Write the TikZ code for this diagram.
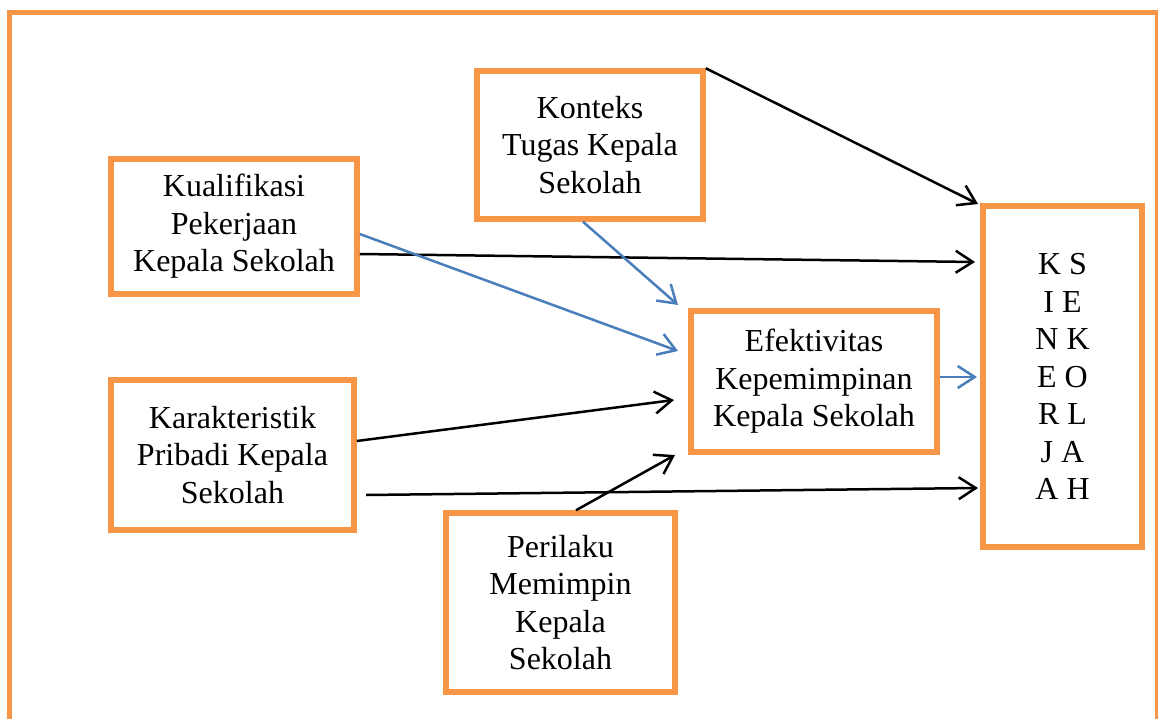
\documentclass[tikz,border=0pt]{standalone}
\usepackage{fontspec}
\setmainfont{Liberation Serif}
\usetikzlibrary{arrows.meta,calc}
\definecolor{boxorange}{HTML}{F79646}
\definecolor{arrblue}{HTML}{4A7EBB}
\begin{document}
\begin{tikzpicture}[x=1pt,y=-1pt,
  box/.style={draw=boxorange,line width=5.5pt,rectangle,align=center,inner sep=0pt,
    font=\fontsize{32}{37.5}\selectfont},
  tip/.style={-{Straight Barb[length=17pt,width=22pt,line width=2.5pt]}},
  blk/.style={tip,draw=black,line width=2.5pt},
  blu/.style={tip,draw=arrblue,line width=2.5pt}]
\useasboundingbox (0,0) rectangle (1158,719);
\draw[boxorange,line width=5pt] (9.5,12.5) rectangle (1157.5,740);
\node[box,minimum width=226pt,minimum height=148pt] (konteks) at (590,145) {Konteks\\Tugas Kepala\\Sekolah};
\node[box,minimum width=246pt,minimum height=135pt] (kual) at (234,226.5) {Kualifikasi\\Pekerjaan\\Kepala Sekolah};
\node[box,minimum width=243pt,minimum height=150pt] (kar) at (232.5,455) {Karakteristik\\Pribadi Kepala\\Sekolah};
\node[box,minimum width=246pt,minimum height=141pt] (efek) at (814,381.5) {Efektivitas\\Kepemimpinan\\Kepala Sekolah};
\node[box,minimum width=229pt,minimum height=179pt] (peri) at (560.5,602.5) {Perilaku\\Memimpin\\Kepala\\Sekolah};
\node[box,minimum width=159pt,minimum height=341pt] (kin) at (1062.5,376.5) {K S\\I E\\N K\\E O\\R L\\J A\\A H};
% free ends
\coordinate (t1) at (978,204);
\coordinate (t2) at (975,262);
\coordinate (t3) at (678,351);
\coordinate (t4) at (678,305);
\coordinate (t5) at (674,400);
\coordinate (t6) at (978,488);
\coordinate (t7) at (675,455);
\coordinate (t8) at (977,377);
\coordinate (s6) at (366,495);
\draw[blk] (konteks.north east) -- (t1);
\draw[blk] (kual.east |- 0,254) -- (t2);
\draw[blu] (kual.east |- 0,234) -- (t3);
\draw[blu] (583,0 |- konteks.south) -- (t4);
\draw[blk] (kar.east |- 0,441) -- (t5);
\draw[blk] (s6) -- (t6);
\draw[blk] (576,0 |- peri.north) -- (t7);
\draw[blu] (efek.east |- 0,377) -- (t8);
\end{tikzpicture}
\end{document}
